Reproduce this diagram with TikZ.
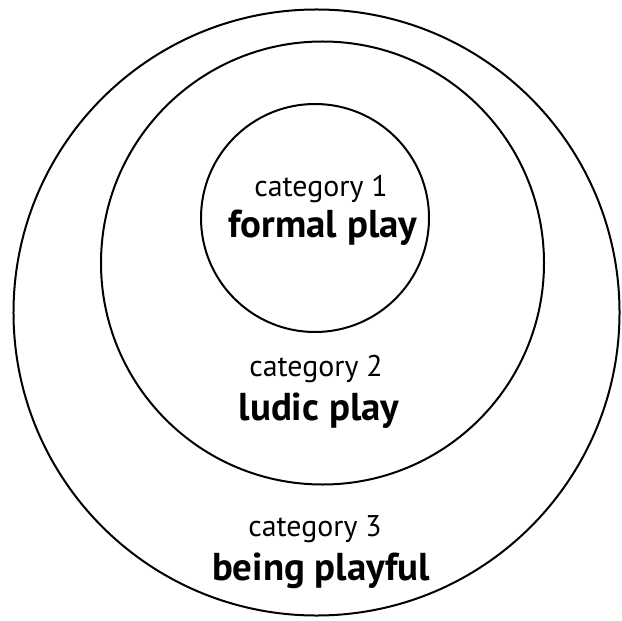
\documentclass[tikz,border=0pt]{standalone}
\usepackage{fontspec}
\setmainfont{PT Sans}
\begin{document}
\begin{tikzpicture}[x=1bp,y=-1bp,
  ring/.style={draw=black,line width=2bp,circle,inner sep=0pt},
  cat/.style={font=\fontsize{30}{34}\selectfont,inner sep=0pt,anchor=base},
  title/.style={font=\fontsize{39}{44}\selectfont\bfseries,inner sep=0pt,anchor=base}]
  \useasboundingbox (0,0) rectangle (621,621);
  % three nested circles
  \node[ring,minimum size=606bp] (outer) at (316.5,312.5) {};
  \node[ring,minimum size=443bp] (middle) at (322.5,263) {};
  \node[ring,minimum size=228bp] (inner) at (315,218) {};
  % labels
  \node[cat] (c1) at (321,196) {category 1};
  \node[title] (t1) at (323,237) {formal play};
  \node[cat] (c2) at (316,376) {category 2};
  \node[title] (t2) at (319,420) {ludic play};
  \node[cat] (c3) at (315,536) {category 3};
  \node[title] (t3) at (321,580) {being playful};
\end{tikzpicture}
\end{document}
